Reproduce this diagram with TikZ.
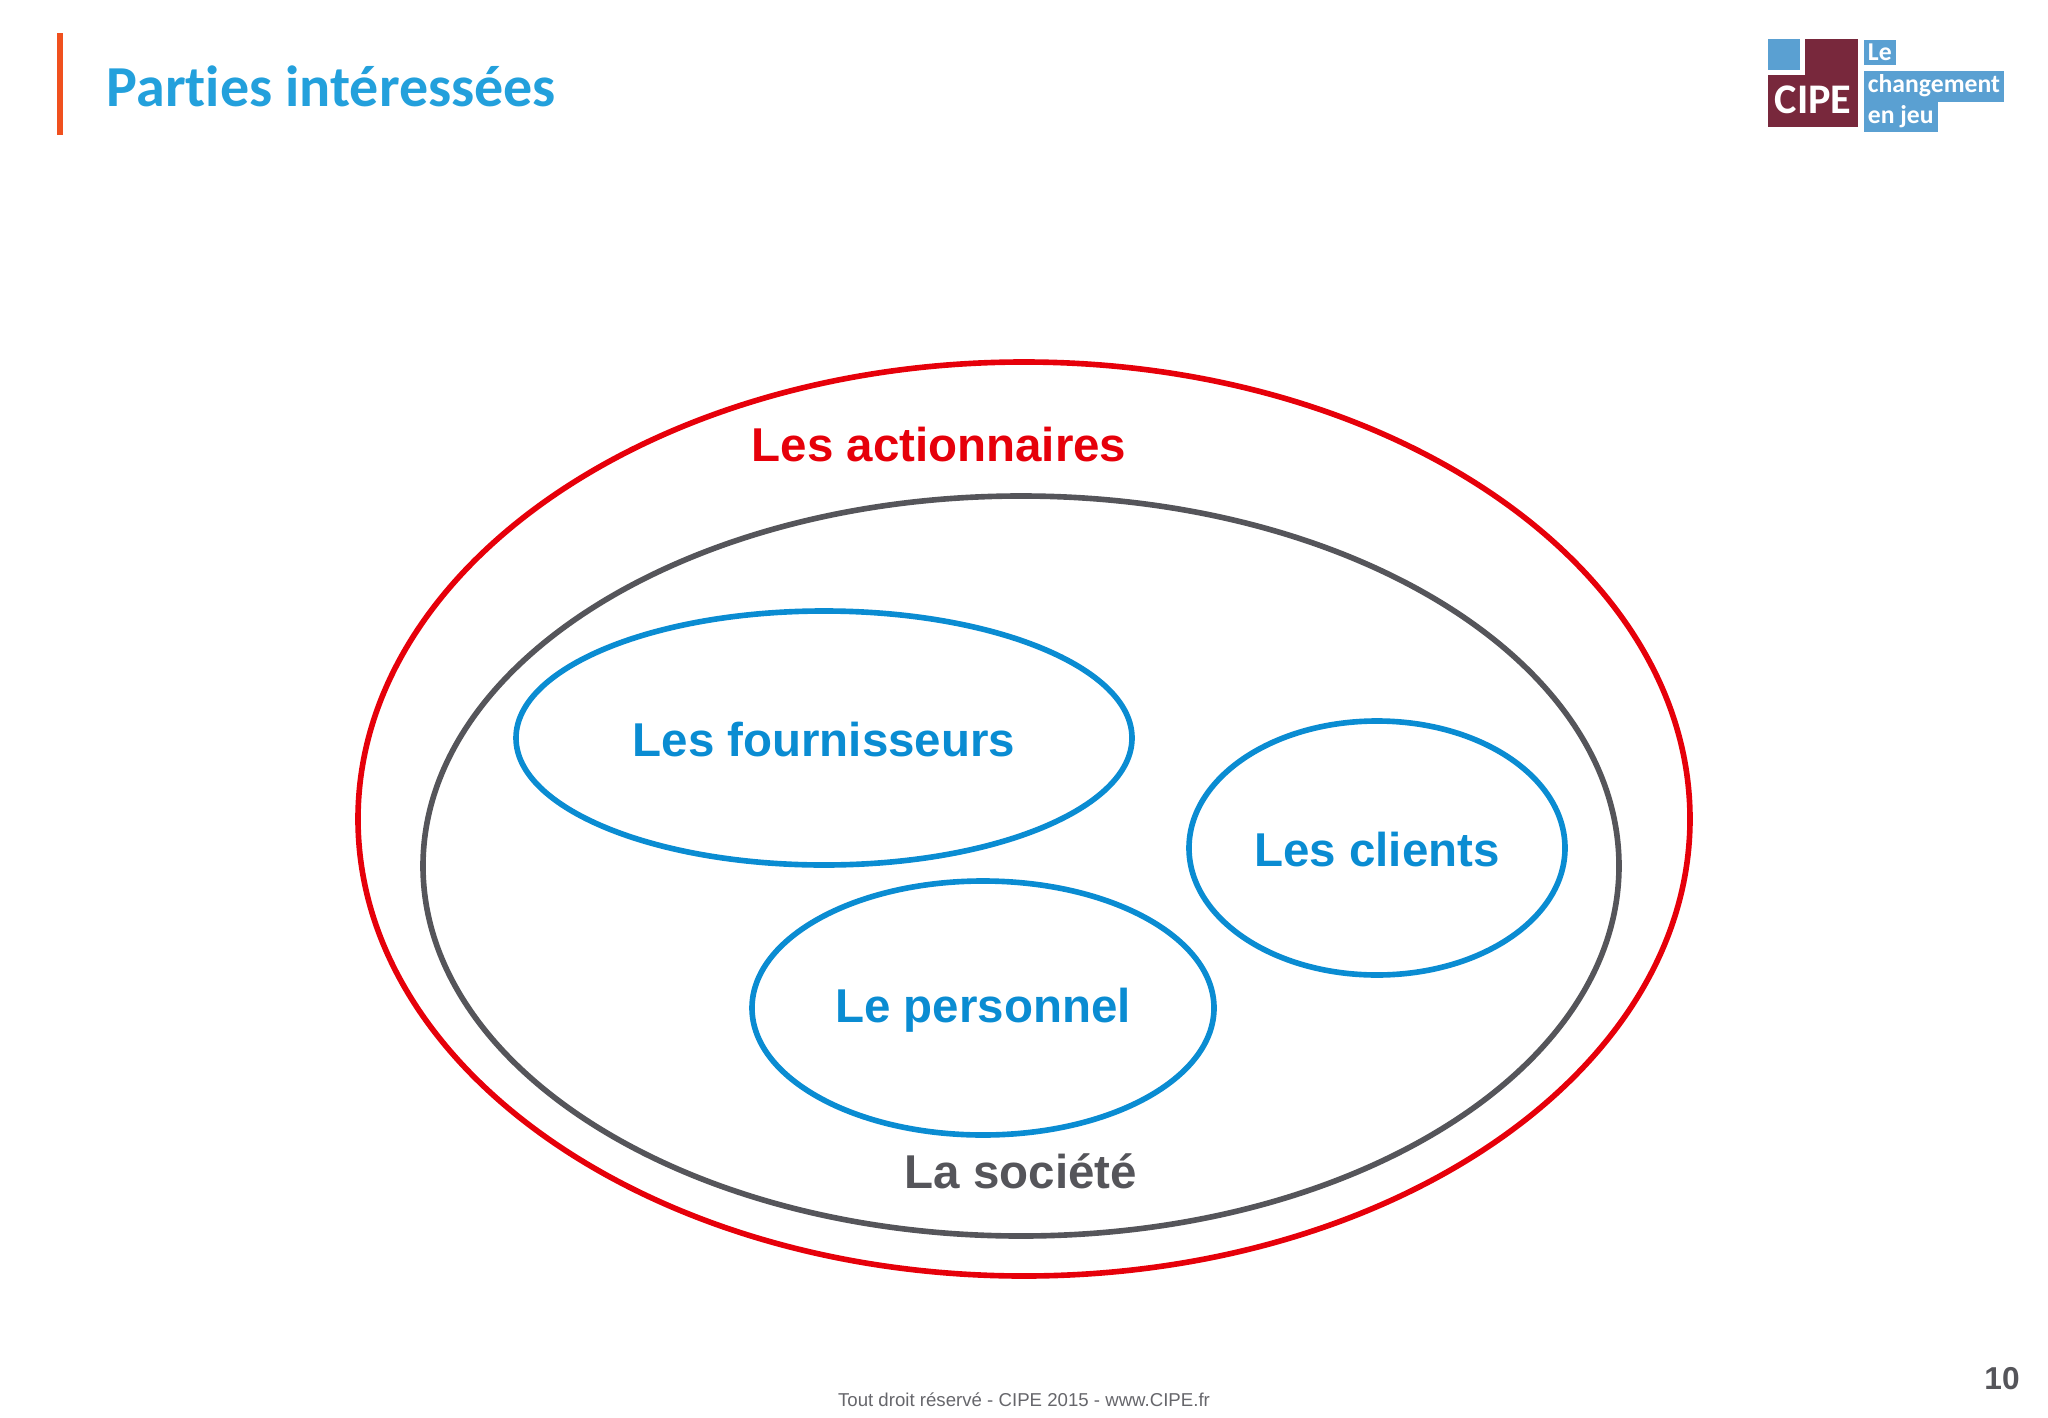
\documentclass[tikz,border=0pt]{standalone}
\usepackage{fontspec}
\setmainfont{Liberation Sans}
\newfontfamily\titlefont[Ligatures=NoCommon]{Carlito}
\definecolor{redline}{RGB}{230,0,10}
\definecolor{grayline}{RGB}{85,85,90}
\definecolor{blueline}{RGB}{10,140,210}
\definecolor{titleblue}{RGB}{35,160,220}
\definecolor{barorange}{RGB}{240,80,30}
\definecolor{logomaroon}{RGB}{120,40,60}
\definecolor{logoblue}{RGB}{90,160,210}
\begin{document}
\begin{tikzpicture}[x=0.01cm,y=-0.01cm,
  zone/.style={line width=1.6pt},
  group/.style={zone, draw=blueline},
  lbl/.style={font=\bfseries\fontsize{13.5}{16}\selectfont},
  logotxt/.style={fill=logoblue, text=white, inner sep=1.2pt, anchor=north west,
    font=\titlefont\bfseries\fontsize{7.3}{8}\selectfont}]
  \useasboundingbox (0,0) rectangle (2048,1418);
  % header
  \fill[barorange] (57,33) rectangle (63,135);
  \node[anchor=west, inner sep=0pt, text=titleblue, font=\titlefont\bfseries\fontsize{16.5}{19}\selectfont] (title) at (106,86) {Parties intéressées};
  % logo
  \fill[logoblue] (1768,39) rectangle (1800,70);
  \fill[logomaroon] (1805,39) rectangle (1858,127);
  \fill[logomaroon] (1768,75) rectangle (1858,127);
  \node[text=white, font=\titlefont\bfseries\fontsize{12}{13}\selectfont] (cipe) at (1813,100) {CIPE};
  \node[logotxt] (le) at (1863,39) {Le};
  \node[logotxt] (chg) at (1863,70) {changement};
  \node[logotxt] (jeu) at (1863,101) {en jeu};
  % stakeholder zones
  \draw[zone, draw=redline] (1024,819) ellipse [x radius=666, y radius=457];
  \draw[zone, draw=grayline] (1021,866) ellipse [x radius=598, y radius=370];
  \draw[group] (824,738) ellipse [x radius=308, y radius=127];
  \draw[group] (1377,848) ellipse [x radius=188, y radius=127];
  \draw[group] (983,1008) ellipse [x radius=231, y radius=127];
  \node[lbl, text=redline] (actionnaires) at (939,445) {Les actionnaires};
  \node[lbl, text=grayline] (societe) at (1021,1171) {La société};
  \node[lbl, text=blueline] (fournisseurs) at (824,740) {Les fournisseurs};
  \node[lbl, text=blueline] (clients) at (1377,850) {Les clients};
  \node[lbl, text=blueline] (personnel) at (983,1010) {Le personnel};
  % footer
  \node[text=grayline!90, font=\fontsize{5.3}{6}\selectfont] (footer) at (1024,1400) {Tout droit réservé - CIPE 2015 - www.CIPE.fr};
  \node[text=grayline, font=\bfseries\fontsize{9}{11}\selectfont] (page) at (2002,1379) {10};
\end{tikzpicture}
\end{document}
